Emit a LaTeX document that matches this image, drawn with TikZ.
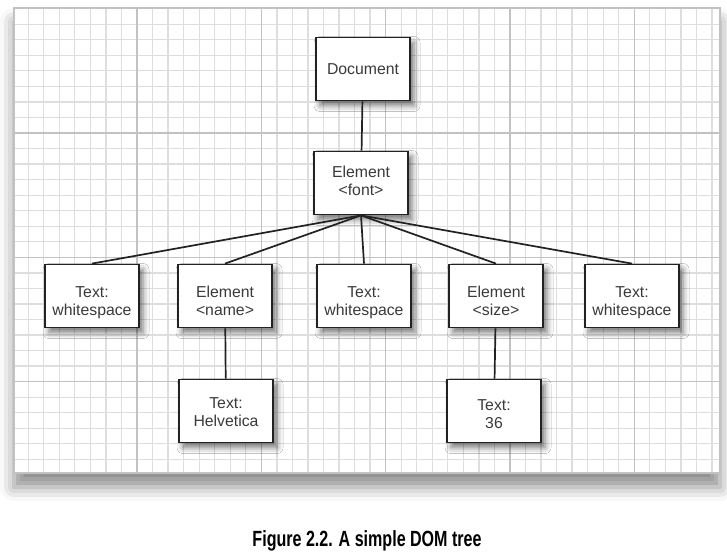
\documentclass[tikz,border=0pt]{standalone}
\usepackage{fontspec}
\setmainfont{Liberation Sans}
\usepackage{tikz}
\usetikzlibrary{shadows.blur}

\definecolor{gridminor}{HTML}{DEDEDE}
\definecolor{gridmajor}{HTML}{C2C2C2}
\definecolor{boxline}{HTML}{222222}
\definecolor{boxtext}{HTML}{3A3A3A}
% two text lines with struts: top height, bottom depth
\newcommand{\domtext}[4]{\rule{0pt}{#1}#3\\#4\rule[-#2]{0pt}{#2}}

\begin{document}
\begin{tikzpicture}[x=1pt,y=-1pt,
  domnode/.style={draw=boxline,line width=1.8pt,fill=white,minimum width=94pt,minimum height=63pt,align=center,text=boxtext,font=\fontsize{15.8}{18}\selectfont,blur shadow={shadow xshift=4pt,shadow yshift=-5pt,shadow blur radius=6pt,shadow opacity=55}},
  edge/.style={draw=boxline,line width=1.7pt},
  minor/.style={draw=gridminor,line width=1.3pt},
  major/.style={draw=gridmajor,line width=1.5pt}]
\useasboundingbox (0,0) rectangle (727,556);
% graph paper sheet
\path[fill=white,blur shadow={shadow xshift=0pt,shadow yshift=-14pt,shadow blur radius=14pt,shadow opacity=45}] (14,8) rectangle (720,473);
\begin{scope}
\clip (14,8) rectangle (720,473);
\foreach \i in {-8,...,38} \draw[minor] ({137+15.54*\i},8) -- ({137+15.54*\i},473);
\foreach \j in {-8,...,22} \draw[minor] (14,{133+15.54*\j}) -- (720,{133+15.54*\j});
\foreach \i in {-1,...,4} \draw[major] ({137+124.32*\i},8) -- ({137+124.32*\i},473);
\foreach \j in {-1,...,3} \draw[major] (14,{133+124.32*\j}) -- (720,{133+124.32*\j});
\end{scope}
\draw[gridmajor,line width=1.2pt] (14,8) rectangle (720,473);
% tree
\node[domnode] (doc) at (363,69) {Document};
\node[domnode] (font) at (361,183) {\domtext{11pt}{5.4pt}{Element}{<font>}};
\node[domnode] (ws1) at (92,296) {\domtext{24pt}{4pt}{Text:}{whitespace}};
\node[domnode] (name) at (225,296) {\domtext{24pt}{4pt}{Element}{<name>}};
\node[domnode] (ws2) at (364,296) {\domtext{24pt}{4pt}{Text:}{whitespace}};
\node[domnode] (size) at (496,296) {\domtext{24pt}{4pt}{Element}{<size>}};
\node[domnode] (ws3) at (632,296) {\domtext{24pt}{4pt}{Text:}{whitespace}};
\node[domnode] (helv) at (226,411) {\domtext{16pt}{4pt}{Text:}{Helvetica}};
\node[domnode] (num) at (494,411) {\domtext{20pt}{4pt}{Text:}{36}};
\draw[edge] (doc)--(font);
\draw[edge] (font.south)--(ws1.north);
\draw[edge] (font.south)--(name.north);
\draw[edge] (font.south)--(ws2.north);
\draw[edge] (font.south)--(size.north);
\draw[edge] (font.south)--(ws3.north);
\draw[edge] (name)--(helv);
\draw[edge] (size)--(num);
% caption
\node[anchor=base,text=black,font=\bfseries\fontsize{22}{24}\selectfont] (cap) at (367,546) {\scalebox{0.73}[1]{Figure 2.2. A simple DOM tree}};
\end{tikzpicture}
\end{document}
